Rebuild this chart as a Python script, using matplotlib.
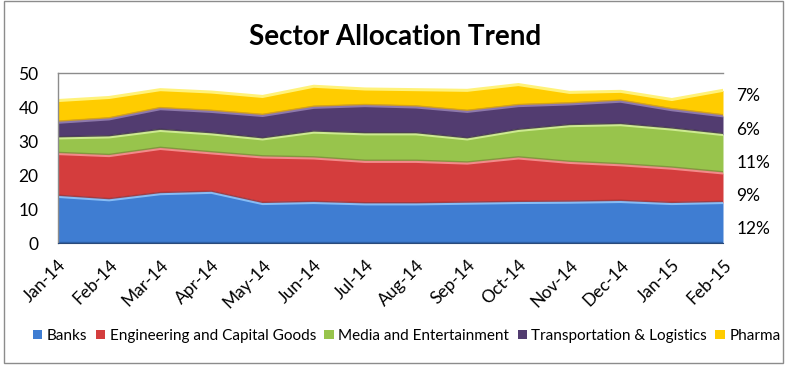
import matplotlib

matplotlib.use("Agg")
import matplotlib.pyplot as plt
import numpy as np
from matplotlib.patches import Rectangle

plt.rcParams["font.family"] = ["Lato", "DejaVu Sans"]

months = ["Jan-14", "Feb-14", "Mar-14", "Apr-14", "May-14", "Jun-14", "Jul-14",
          "Aug-14", "Sep-14", "Oct-14", "Nov-14", "Dec-14", "Jan-15", "Feb-15"]
banks = [13.7, 12.7, 14.5, 14.9, 11.6, 11.9, 11.5, 11.5, 11.7, 11.9, 12.0, 12.2, 11.6, 11.9]
engineering = [12.6, 13.0, 13.3, 11.6, 13.7, 13.1, 12.5, 12.5, 11.8, 13.1, 11.7, 10.8, 10.4, 8.7]
media = [4.6, 5.5, 5.3, 5.6, 5.3, 7.6, 8.1, 8.1, 7.1, 8.1, 10.8, 11.8, 11.5, 11.3]
transport = [4.6, 5.3, 6.4, 6.6, 6.9, 7.3, 8.3, 7.9, 8.1, 7.3, 6.4, 6.9, 5.7, 5.5]
pharma = [6.4, 6.3, 5.6, 5.7, 5.6, 6.2, 4.9, 5.1, 6.2, 6.2, 3.4, 2.9, 3.0, 7.5]

series_names = ["Banks", "Engineering and Capital Goods", "Media and Entertainment",
                "Transportation & Logistics", "Pharma"]
share_labels = ["12%", "9%", "11%", "6%", "7%"]
share_y = [4.0, 13.9, 23.6, 33.3, 43.3]

fills = ["#3f7dd2", "#d43d3d", "#98c44c", "#523c70", "#ffcc00"]
tops = ["#86bcf5", "#f28a8a", "#cdea90", "#8d78ab", "#fff27a"]
bottoms = ["#2a5a9e", "#9e2626", "#6e9630", "#362648", "#e0a800"]

fig = plt.figure(figsize=(7.9, 3.68), dpi=100)
fig.patches.append(Rectangle((4 / 790, 5 / 368), 779 / 790, 362 / 368,
                             transform=fig.transFigure, fill=False,
                             edgecolor="#8c8c8c", linewidth=1.0))

ax = fig.add_axes([58 / 790, 1 - 243 / 368, 665 / 790, 170 / 368])
x = np.arange(len(months))
data = [banks, engineering, media, transport, pharma]
base = np.zeros(len(months))
handles = []
for vals, fc, tc, bc, name in zip(data, fills, tops, bottoms, series_names):
    top = base + np.array(vals)
    h = ax.fill_between(x, base, top, color=fc, linewidth=0, label=name)
    # light bevel along the top edge, darker shade along the bottom
    ax.plot(x, top, color=tc, linewidth=2.2, solid_joinstyle="round")
    ax.plot(x, base + 0.35, color=bc, linewidth=1.0, alpha=0.8)
    handles.append(h)
    base = top

ax.set_xlim(0, len(months) - 1)
ax.set_ylim(0, 50)
ax.set_yticks(range(0, 51, 10))
ax.set_xticks(x)
ax.set_xticklabels(months, rotation=45, ha="right", rotation_mode="anchor")
ax.tick_params(length=0, labelsize=12.5, colors="black")
ax.tick_params(axis="x", pad=10)
ax.tick_params(axis="y", pad=14)
for side in ["top", "left"]:
    ax.spines[side].set_color("#8c8c8c")
    ax.spines[side].set_linewidth(1.0)
ax.spines["right"].set_visible(False)
ax.spines["bottom"].set_color("#2a4a7a")

for lab, yv in zip(share_labels, share_y):
    ax.text(len(months) - 1 + 0.26, yv, lab, fontsize=12.5, va="center", ha="left",
            clip_on=False)

fig.text(0.5, 1 - 37 / 368, "Sector Allocation Trend", ha="center", va="center",
         fontsize=20, fontweight="bold")

fig.legend(handles=handles, labels=series_names, loc="center",
           bbox_to_anchor=(0.515, 1 - 336 / 368), ncol=5, frameon=False,
           fontsize=11, handlelength=0.6, handleheight=0.6, handletextpad=0.3,
           columnspacing=0.55, borderaxespad=0)

fig.savefig("out.png", dpi=100)
